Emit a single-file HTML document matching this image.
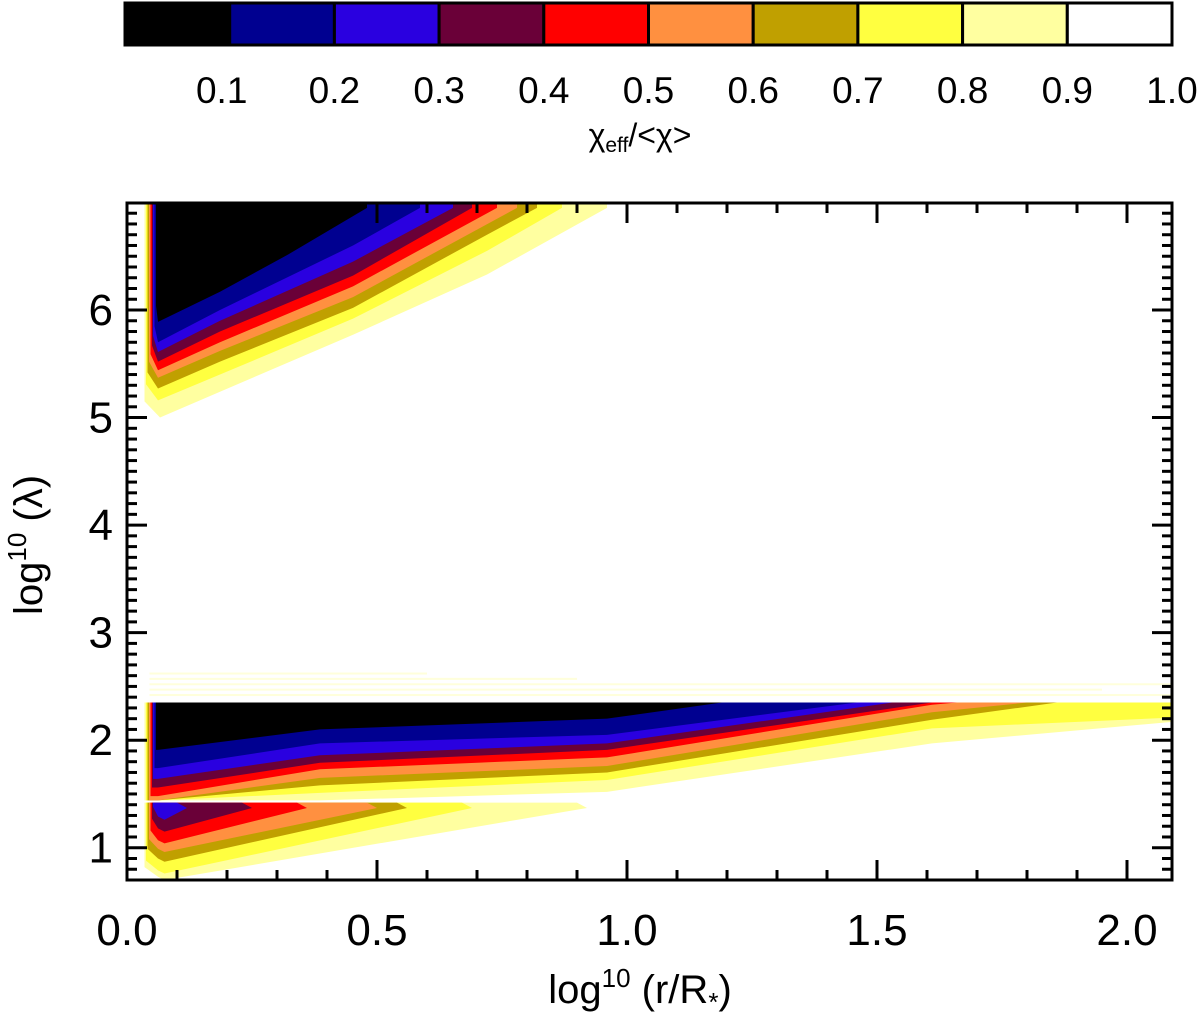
<!DOCTYPE html>
<html><head><meta charset="utf-8"><style>
html,body{margin:0;padding:0;background:#fff;}
svg{display:block;font-family:"Liberation Sans",Arial,sans-serif;}
</style></head><body>
<svg id="chart" width="1200" height="1020" viewBox="0 0 1200 1020" xmlns="http://www.w3.org/2000/svg">
<defs><clipPath id="pc"><rect x="127" y="203" width="1045" height="677"/></clipPath></defs>
<g id="colorbar"></g>
<text x="640" y="146" text-anchor="middle" font-size="32">χ<tspan font-size="21" dy="6">eff</tspan><tspan dy="-6">/&lt;χ&gt;</tspan></text>
<g id="plot" clip-path="url(#pc)"></g>
<g id="axes"></g>
<text x="640" y="1003" text-anchor="middle" font-size="40">log<tspan font-size="26" dy="-16">10</tspan><tspan dy="16"> (r/R</tspan><tspan font-size="26" dy="8">*</tspan><tspan dy="-8">)</tspan></text>
<text transform="translate(42,545) rotate(-90)" text-anchor="middle" font-size="40">log<tspan font-size="26" dy="-16">10</tspan><tspan dy="16"> (λ)</tspan></text>
</svg>
<script>
const levelColors = ["#000000","#000090","#2a00e0","#6a0038","#ff0000","#ff9040","#c0a000","#ffff40","#ffffa0","#ffffff"];
const levelLabels = ["0.1","0.2","0.3","0.4","0.5","0.6","0.7","0.8","0.9","1.0"];
const xTicks = [0.0,0.5,1.0,1.5,2.0];
const xTickLabels = ["0.0","0.5","1.0","1.5","2.0"];
const yTicks = [1,2,3,4,5,6];
const yTickLabels = ["1","2","3","4","5","6"];
const xDomain = [0, 2.09];
const yDomain = [0.70, 6.995];
// left wall x per level (0..8)
const leftX = [0.058,0.055,0.052,0.050,0.047,0.044,0.041,0.038,0.035];
// top lobe boundaries (lower edge of region value<level)
const topB0 = [[0.062,5.89],[0.186,6.17],[0.32,6.51],[0.48,6.95]];
const topB1 = [[0.062,5.70],[0.186,6.00],[0.452,6.60],[0.586,6.95]];
const topB2 = [[0.062,5.61],[0.186,5.90],[0.452,6.45],[0.652,6.95]];
const topB3 = [[0.062,5.52],[0.186,5.80],[0.452,6.32],[0.69,6.95]];
const topB4 = [[0.062,5.44],[0.186,5.70],[0.452,6.22],[0.74,6.95]];
const topB5 = [[0.062,5.37],[0.186,5.62],[0.452,6.12],[0.78,6.95]];
const topB6 = [[0.062,5.27],[0.186,5.52],[0.452,6.02],[0.72,6.70],[0.82,6.95]];
const topB7 = [[0.062,5.16],[0.186,5.40],[0.452,5.92],[0.72,6.55],[0.87,6.95]];
const topB8 = [[0.066,5.00],[0.186,5.24],[0.452,5.77],[0.72,6.33],[0.96,6.95]];
// middle band boundaries
const midB0 = [[0.062,1.91],[0.386,2.10],[0.96,2.20],[1.19,2.35]];
const midB1 = [[0.062,1.74],[0.386,1.97],[0.96,2.05],[1.46,2.35]];
const midB2 = [[0.062,1.64],[0.386,1.86],[0.96,1.97],[1.53,2.35]];
const midB3 = [[0.062,1.56],[0.386,1.79],[0.96,1.91],[1.61,2.35]];
const midB4 = [[0.062,1.48],[0.386,1.73],[0.96,1.84],[1.61,2.33],[1.66,2.35]];
const midB5 = [[0.062,1.44],[0.386,1.65],[0.96,1.76],[1.61,2.26],[1.80,2.35]];
const midB6 = [[0.062,1.44],[0.386,1.58],[0.96,1.70],[1.61,2.19],[1.86,2.35]];
const midB7 = [[0.062,1.44],[0.386,1.51],[0.96,1.63],[1.61,2.11],[2.09,2.21]];
const midB8 = [[0.062,1.44],[0.386,1.44],[0.96,1.52],[1.61,1.97],[2.09,2.17]];
// lower wedge: levels 2..8
const lowLevels = [2,3,4,5,6,7,8];
const lowTipX = [0.12,0.25,0.36,0.50,0.56,0.69,0.92];
const lowBottomY = [1.26,1.15,1.04,0.96,0.87,0.76,0.70];
// faint streaks above the middle band
const streakY = [2.42,2.47,2.52,2.57,2.62];
const streakEnd = [2.09,1.95,2.09,0.9,0.6];

const NS="http://www.w3.org/2000/svg";
const X=v=>127+(v-xDomain[0])/(xDomain[1]-xDomain[0])*1045;
const Y=v=>880-(v-yDomain[0])/(yDomain[1]-yDomain[0])*677;
function mk(tag,attrs,parent){const e=document.createElementNS(NS,tag);for(const k in attrs)e.setAttribute(k,attrs[k]);parent.appendChild(e);return e;}
const plot=document.getElementById('plot');
const topBs=[topB0,topB1,topB2,topB3,topB4,topB5,topB6,topB7,topB8];
const midBs=[midB0,midB1,midB2,midB3,midB4,midB5,midB6,midB7,midB8];
const TOP=7.2, MIDTOP=2.35, LOWTOP=1.42;
for(let k=8;k>=0;k--){
  const b=topBs[k];
  const pts=[[leftX[k],TOP],[leftX[k],b[0][1]+0.15],...b,[b[b.length-1][0],TOP]];
  const p=mk('polygon',{points:pts.map(q=>X(q[0])+','+Y(q[1])).join(' '),fill:levelColors[k]},plot);
  
  
}
for(let i=0;i<streakY.length;i++){
  const r=mk('rect',{x:X(0.045),y:Y(streakY[i])-1,width:X(streakEnd[i])-X(0.045),height:2,fill:"#ffffb0",opacity:0.45},plot);
  
  
}
for(let k=8;k>=0;k--){
  const b=midBs[k];
  const last=b[b.length-1];
  const pts=[[leftX[k],MIDTOP],[leftX[k],b[0][1]],...b,[last[0],MIDTOP]];
  const p=mk('polygon',{points:pts.map(q=>X(q[0])+','+Y(q[1])).join(' '),fill:levelColors[k]},plot);
  
  
}
for(let i=lowLevels.length-1;i>=0;i--){
  const k=lowLevels[i], t=lowTipX[i], lo=lowBottomY[i];
  const pts=[[leftX[k],LOWTOP],[t-0.02,LOWTOP],[t,1.37],[0.075,lo],[0.062,lo+0.03],[leftX[k],lo+0.12]];
  const p=mk('polygon',{points:pts.map(q=>X(q[0])+','+Y(q[1])).join(' '),fill:levelColors[k]},plot);
  
  
}
const ax=document.getElementById('axes');
const fr=mk('rect',{x:127,y:203,width:1045,height:677,fill:"none",stroke:"#000","stroke-width":3},ax);


for(let i=0;i<=20;i++){
  const v=i*0.1, x=X(v), maj=i%5===0, L=maj?20:10;
  mk('line',{x1:x,y1:880,x2:x,y2:880-L,stroke:"#000","stroke-width":3},ax);
  mk('line',{x1:x,y1:203,x2:x,y2:203+L,stroke:"#000","stroke-width":3},ax);
}
for(let i=7;i<=69;i++){
  const v=i*0.1, y=Y(v), maj=i%10===0, L=maj?20:10;
  mk('line',{x1:127,y1:y,x2:127+L,y2:y,stroke:"#000","stroke-width":3},ax);
  mk('line',{x1:1172,y1:y,x2:1172-L,y2:y,stroke:"#000","stroke-width":3},ax);
}
for(let i=0;i<xTicks.length;i++){
  const t=mk('text',{x:X(xTicks[i]),y:945,"text-anchor":"middle","font-size":44},ax);
  t.textContent=xTickLabels[i];
  
  
}
for(let i=0;i<yTicks.length;i++){
  const t=mk('text',{x:113,y:Y(yTicks[i])+15,"text-anchor":"end","font-size":44},ax);
  t.textContent=yTickLabels[i];
  
  
}
const cb=document.getElementById('colorbar');
const cx0=125,cx1=1172,cw=(cx1-cx0)/levelColors.length;
for(let i=0;i<levelColors.length;i++){
  const r=mk('rect',{x:cx0+i*cw,y:3,width:cw,height:42,fill:levelColors[i],stroke:"#000","stroke-width":3},cb);
  
  
  const t=mk('text',{x:cx0+(i+1)*cw-(i===0?8:0),y:103,"text-anchor":"middle","font-size":37},cb);
  t.textContent=levelLabels[i];
  
  
}
</script>
</body></html>
